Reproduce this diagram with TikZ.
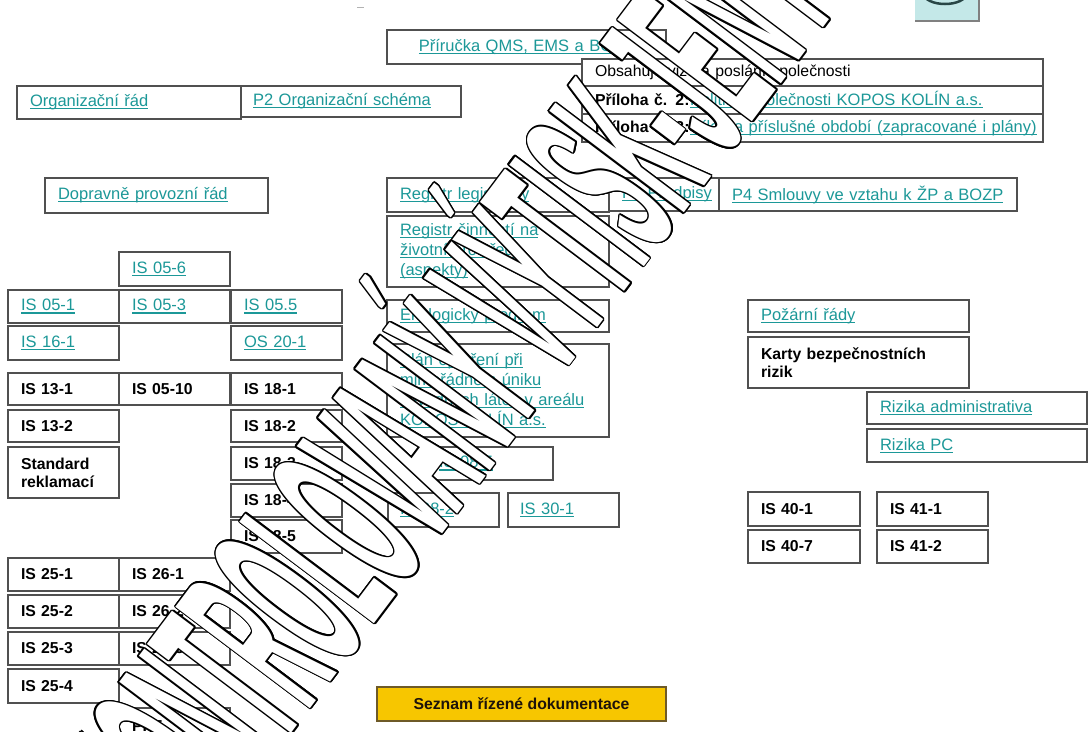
\documentclass[tikz,border=0pt]{standalone}
\usepackage{fontspec}
\setmainfont{Liberation Sans}
\definecolor{linkc}{RGB}{28,152,152}
\definecolor{boxline}{RGB}{80,80,80}
\definecolor{seznamfill}{RGB}{247,198,0}
\definecolor{seznamline}{RGB}{110,90,40}
\definecolor{iconfill}{RGB}{196,232,232}
\definecolor{icondark}{RGB}{40,70,70}
\newcommand\lfont{\fontsize{16.5}{20}\selectfont}
\newcommand\bfont{\fontsize{15.8}{18}\selectfont\bfseries}
\newcommand\wmfont{\fontsize{245}{250}\selectfont\bfseries}
% underlined hyperlink-style text
\newcommand\lk[1]{\leavevmode{\color{linkc}\setbox0\hbox{#1}\rlap{\rule[-2.6pt]{\wd0}{1.1pt}}\box0}}
\newcommand\wmtext{\scalebox{0.289}[1]{\llap{NEKONT}ROLOVANÝ VÝTISK-JEN PRO INFORMACI}}
\tikzset{
  box/.style={draw=boxline, line width=1.2pt, fill=white, anchor=north west,
    inner xsep=13pt, inner ysep=0pt, outer sep=0pt, align=left},
  lnk/.style={box, font=\lfont},
  bld/.style={box, font=\bfont},
  colbox/.style={text width=85pt, minimum height=#1},
  wm/.style={rotate=53, anchor=base west, inner sep=0pt, outer sep=0pt, font=\wmfont},
}
\begin{document}
\begin{tikzpicture}[x=1pt,y=-1pt]
\useasboundingbox (0,0) rectangle (1089,731);

% navigation button at the top
\fill[iconfill] (915,-4) rectangle (979,21);
\draw[gray, line width=1.2pt] (915,21) -- (979,21) -- (979,-4);
\draw[icondark, line width=2.5pt] (966,-6) arc[start angle=0, end angle=180, x radius=21, y radius=10];
\draw[gray!60, line width=0.8pt] (357,7) -- (364,7);

% top group
\node[lnk, align=center, text width=253pt, minimum height=34pt] (prir) at (387,30) {\lk{Příručka QMS, EMS a BOZP}};
\node[box, font=\fontsize{15.8}{18}\selectfont, text width=435pt, minimum height=27pt] (row1) at (582,59) {Obsahuje vize a poslání společnosti};
\node[box, font=\lfont, text width=435pt, minimum height=28pt] (row2) at (582,86) {\makebox[95pt][l]{\bfont Příloha č. 2:}\lk{Politika společnosti KOPOS KOLÍN a.s.}};
\node[box, font=\lfont, text width=435pt, minimum height=28pt] (row3) at (582,114) {\makebox[95pt][l]{\bfont Příloha č. 3:}\lk{Cíle na příslušné období (zapracované i plány)}};

\node[lnk, text width=198pt, minimum height=33pt] (org) at (17,86) {\lk{Organizační řád}};
\node[lnk, inner xsep=12pt, text width=196pt, minimum height=31pt] (p2) at (241,86) {\lk{P2 Organizační schéma}};
\node[lnk, text width=197pt, minimum height=35pt] (dopr) at (45,178) {\lk{Dopravně provozní řád}};

% environment column
\node[lnk, text width=196pt, minimum height=34pt] (regleg) at (387,178) {\lk{Registr legislativy}};
\node[lnk, text width=84pt, minimum height=33pt] (p3) at (609,178) {\lk{P3 Předpisy}};
\node[lnk, text width=272pt, minimum height=33pt] (p4) at (719,178) {\lk{P4 Smlouvy ve vztahu k ŽP a BOZP}};
\node[lnk, text width=196pt, minimum height=71pt] (regcin) at (387,216) {\lk{Registr činností na}\\\lk{životní prostředí}\\\lk{(aspekty)}};
\node[lnk, text width=196pt, minimum height=32pt] (eko) at (387,300) {\lk{Ekologický program}};
\node[lnk, text width=196pt, minimum height=93pt] (plan) at (387,344) {\lk{Plán opatření při}\\\lk{mimořádném úniku}\\\lk{závadných látek v areálu}\\\lk{KOPOS KOLÍN a.s.}};
\node[lnk, text width=101pt, minimum height=33pt] (is085) at (426,447) {\lk{IS 08-5}};
\node[lnk, inner xsep=12pt, text width=87pt, minimum height=34pt] (is082) at (388,493) {\lk{IS 08-2}};
\node[lnk, inner xsep=12pt, text width=87pt, minimum height=34pt] (is301) at (508,493) {\lk{IS 30-1}};

% safety column
\node[lnk, text width=195pt, minimum height=32pt] (pozar) at (748,300) {\lk{Požární řády}};
\node[bld, text width=195pt, minimum height=51pt] (karty) at (748,337) {Karty bezpečnostních\\rizik};
\node[lnk, text width=194pt, minimum height=32pt] (rizadm) at (867,392) {\lk{Rizika administrativa}};
\node[lnk, text width=194pt, minimum height=33pt] (rizpc) at (867,429) {\lk{Rizika PC}};
\node[bld, text width=86pt, minimum height=34pt] (is401) at (748,492) {IS 40-1};
\node[bld, text width=86pt, minimum height=33pt] (is407) at (748,530) {IS 40-7};
\node[bld, text width=85pt, minimum height=34pt] (is411) at (877,492) {IS 41-1};
\node[bld, text width=85pt, minimum height=33pt] (is412) at (877,530) {IS 41-2};

% left grid of instructions
\node[lnk, colbox=34pt] (is056) at (119,252) {\lk{IS 05-6}};
\node[lnk, colbox=33pt] (is051) at (8,290) {\lk{IS 05-1}};
\node[lnk, colbox=33pt] (is053) at (119,290) {\lk{IS 05-3}};
\node[lnk, colbox=33pt] (is055) at (231,290) {\lk{IS 05.5}};
\node[lnk, colbox=34pt] (is161) at (8,326) {\lk{IS 16-1}};
\node[lnk, colbox=34pt] (os201) at (231,326) {\lk{OS 20-1}};
\node[bld, colbox=32pt] (is131) at (8,373) {IS 13-1};
\node[bld, colbox=32pt] (is0510) at (119,373) {IS 05-10};
\node[bld, colbox=32pt] (is181) at (231,373) {IS 18-1};
\node[bld, colbox=32pt] (is132) at (8,410) {IS 13-2};
\node[bld, colbox=32pt] (is182) at (231,410) {IS 18-2};
\node[bld, colbox=51pt] (std) at (8,447) {Standard\\reklamací};
\node[bld, colbox=33pt] (is183) at (231,447) {IS 18-3};
\node[bld, colbox=33pt] (is184) at (231,484) {IS 18-4};
\node[bld, colbox=33pt] (is185) at (231,520) {IS 18-5};
\node[bld, colbox=33pt] (is251) at (8,558) {IS 25-1};
\node[bld, colbox=33pt] (is261) at (119,558) {IS 26-1};
\node[bld, colbox=33pt] (is252) at (8,595) {IS 25-2};
\node[bld, colbox=33pt] (is262) at (119,595) {IS 26-2};
\node[bld, colbox=33pt] (is253) at (8,632) {IS 25-3};
\node[bld, colbox=33pt] (is263) at (119,632) {IS 26-3};
\node[bld, colbox=34pt] (is254) at (8,669) {IS 25-4};
\node[bld, colbox=37pt] (pie) at (119,708) {PI-E};

% register of controlled documents
\node[draw=seznamline, line width=1.2pt, fill=seznamfill, anchor=north west, outer sep=0pt,
  minimum width=289pt, minimum height=34pt, font=\bfont, text=black!85!brown] (seznam) at (377,687) {Seznam řízené dokumentace};

% outlined diagonal watermark
\begin{scope}
\clip (0,0) rectangle (1089,731);
\coordinate (wmstart) at (308,712);
\foreach \a in {0,22.5,...,337.5}
  \node[wm, text=black, shift={(\a:1.4)}] at (wmstart) {\wmtext};
\node[wm, text=white] (wmark) at (wmstart) {\wmtext};
\end{scope}
\end{tikzpicture}
\end{document}
